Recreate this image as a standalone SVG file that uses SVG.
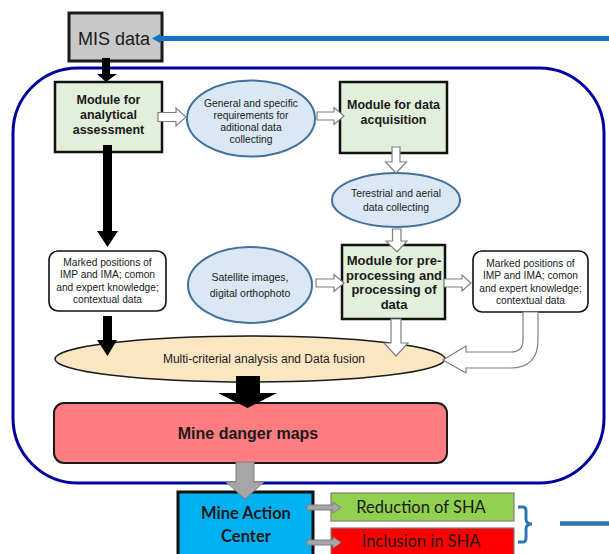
<svg xmlns="http://www.w3.org/2000/svg" width="609" height="554" viewBox="0 0 609 554">
<style>
  .t { font-family: "Liberation Sans", Arial, sans-serif; fill: #1a1a1a; text-anchor: middle; }
  .b { font-weight: bold; }
  .c { font-family: Lato, "Liberation Sans", sans-serif; fill: #1a1a1a; text-anchor: middle; }
  .mod { fill: #e2efda; stroke: #111; stroke-width: 2.5; }
  .ell { fill: #dae8f5; stroke: #41719c; stroke-width: 2; }
  .note { fill: #fff; stroke: #111; stroke-width: 1.6; }
  .hol { fill: #fff; stroke: #7f7f7f; stroke-width: 1.2; }
  .blk { fill: #000; }
  .gry { fill: #a6a6a6; stroke: #808080; stroke-width: 1; }
</style>
<rect width="609" height="554" fill="#fff"/>

<!-- big frame -->
<rect id="frame" x="13" y="68" width="591" height="415" rx="65" ry="65" fill="none" stroke="#0000a0" stroke-width="3"/>

<g id="mis">
  <rect x="69" y="13" width="93" height="48" fill="#c8c8c8" stroke="#1a1a1a" stroke-width="3"/>
  <text class="t" x="114" y="45" font-size="18">MIS data</text>
</g>

<g id="analytical">
  <rect class="mod" x="55" y="82" width="107" height="70"/>
  <text class="t b" x="108.5" y="104" font-size="12.5">Module for</text>
  <text class="t b" x="108.5" y="119" font-size="12.5">analytical</text>
  <text class="t b" x="108.5" y="134" font-size="12.5">assessment</text>
</g>

<g id="requirements">
  <ellipse class="ell" cx="251" cy="118.5" rx="64" ry="38"/>
  <text class="t" x="251" y="106.5" font-size="10.3">General and specific</text>
  <text class="t" x="251" y="118.5" font-size="10.3">requirements for</text>
  <text class="t" x="251" y="131" font-size="10.3">aditional data</text>
  <text class="t" x="251" y="143" font-size="10.3">collecting</text>
</g>

<g id="acquisition">
  <rect class="mod" x="340" y="82" width="107" height="71"/>
  <text class="t b" x="393.5" y="109" font-size="12.5">Module for data</text>
  <text class="t b" x="393.5" y="124" font-size="12.5">acquisition</text>
</g>

<g id="terestrial">
  <ellipse class="ell" cx="396" cy="200" rx="64" ry="27"/>
  <text class="t" x="396" y="196.5" font-size="10.3">Terestrial and aerial</text>
  <text class="t" x="396" y="210.5" font-size="10.3">data collecting</text>
</g>

<g id="marked-left">
  <rect class="note" x="49" y="251" width="117" height="60" rx="9" ry="9"/>
  <text class="t" x="107.5" y="265.5" font-size="10.2">Marked positions of</text>
  <text class="t" x="107.5" y="278" font-size="10.2">IMP and IMA; comon</text>
  <text class="t" x="107.5" y="290.5" font-size="10.2">and expert knowledge;</text>
  <text class="t" x="107.5" y="303" font-size="10.2">contextual data</text>
</g>

<g id="satellite">
  <ellipse class="ell" cx="250" cy="285" rx="62" ry="38"/>
  <text class="t" x="250" y="281" font-size="10.5">Satellite images,</text>
  <text class="t" x="250" y="297" font-size="10.5">digital orthophoto</text>
</g>

<g id="preprocessing">
  <rect class="mod" x="342" y="245" width="103" height="74"/>
  <text class="t b" x="394" y="265" font-size="13">Module for pre-</text>
  <text class="t b" x="394" y="279.5" font-size="13">processing and</text>
  <text class="t b" x="394" y="294" font-size="13">processing of</text>
  <text class="t b" x="394" y="309" font-size="13">data</text>
</g>

<g id="marked-right">
  <rect class="note" x="473" y="251" width="115" height="61" rx="9" ry="9"/>
  <text class="t" x="530.5" y="266.5" font-size="10.2">Marked positions of</text>
  <text class="t" x="530.5" y="279" font-size="10.2">IMP and IMA; comon</text>
  <text class="t" x="530.5" y="291.5" font-size="10.2">and expert knowledge;</text>
  <text class="t" x="530.5" y="304" font-size="10.2">contextual data</text>
</g>

<g id="fusion">
  <ellipse cx="250" cy="359" rx="195" ry="23" fill="#fbe6c2" stroke="#1a1a1a" stroke-width="1.5"/>
  <text class="t" x="264" y="362.5" font-size="12">Multi-criterial analysis and Data fusion</text>
</g>

<g id="danger-maps">
  <rect x="54" y="403" width="393" height="60" rx="10" ry="10" fill="#ff7c80" stroke="#1a1a1a" stroke-width="2"/>
  <text class="t b" x="248" y="438.5" font-size="16">Mine danger maps</text>
</g>

<g id="mac">
  <rect x="178" y="492" width="135" height="70" fill="#00b0f0" stroke="#111" stroke-width="3"/>
  <text class="c" font-weight="bold" x="246" y="519" font-size="16.5">Mine Action</text>
  <text class="c" font-weight="bold" x="246" y="542" font-size="16.5">Center</text>
</g>

<g id="reduction">
  <rect x="331" y="493" width="183" height="28" fill="#92d050" stroke="#7f7f7f" stroke-width="1.2"/>
  <text class="c" x="421" y="513" font-size="16.5">Reduction of SHA</text>
</g>

<g id="inclusion">
  <rect x="331" y="528" width="183" height="34" fill="#ff0000" stroke="#7f7f7f" stroke-width="1.2"/>
  <text class="c" x="421" y="547" font-size="16.5">Inclusion in SHA</text>
</g>

<g id="connectors">
  <!-- blue feedback line to MIS -->
  <line x1="609" y1="38.5" x2="159" y2="38.5" stroke="#1a73c0" stroke-width="5"/>
  <polygon points="152,38.5 160,34 160,43" fill="#1a73c0"/>
  <!-- black arrows -->
  <polygon class="blk" points="102,58 110,58 110,74 117,74 106,82 97,74 102,74"/>
  <polygon class="blk" points="103,145 112,145 112,231 118,231 107.5,247 97,231 103,231"/>
  <polygon class="blk" points="103,316 112,316 112,340 117,340 107.5,356 97,340 103,340"/>
  <polygon class="blk" points="236,376 260,376 260,393 277,393 247.5,408 218,393 236,393"/>
  <!-- hollow arrows -->
  <polygon class="hol" points="158,112.5 176,112.5 176,108 186,117 176,126 176,121.5 158,121.5"/>
  <polygon class="hol" points="317,112 334,112 334,107.5 344,116 334,124.5 334,120 317,120"/>
  <polygon class="hol" points="392,147 400,147 400,162 406.5,162 396,173 385.5,162 392,162"/>
  <polygon class="hol" points="392.5,229 401,229 401,241 407,241 397,252 386,241 392.5,241"/>
  <polygon class="hol" points="316,279 334,279 334,274.5 344,283 334,291.5 334,287 316,287"/>
  <polygon class="hol" points="444,279 462,279 462,275 471,283 462,291 462,287 444,287"/>
  <polygon class="hol" points="391,319 401,319 401,343 408,343 396,356 384,343 391,343"/>
  <path class="hol" d="M523,312 L523,340 Q523,352 511,352 L466,352 L466,346 L443,360 L466,373 L466,368 L510,368 Q538,368 538,340 L538,312 Z"/>
  <!-- gray arrows -->
  <polygon class="gry" points="236,462 254,462 254,482 264,482 245,499 226,482 236,482"/>
  <polygon class="gry" points="307,505 333,505 333,502 341,507.5 333,513 333,510 307,510"/>
  <polygon class="gry" points="307,540 333,540 333,537 341,542.5 333,548 333,545 307,545"/>
  <!-- brace and outgoing line -->
  <path d="M518,507 L523,507 Q526,507 526,511 L526,519 Q526,524 532,524 Q526,524 526,529 L526,538 Q526,542 523,542 L518,542" fill="none" stroke="#2e75b6" stroke-width="3"/>
  <line x1="560" y1="523.5" x2="609" y2="523.5" stroke="#2e75b6" stroke-width="4.5"/>
</g>
</svg>
